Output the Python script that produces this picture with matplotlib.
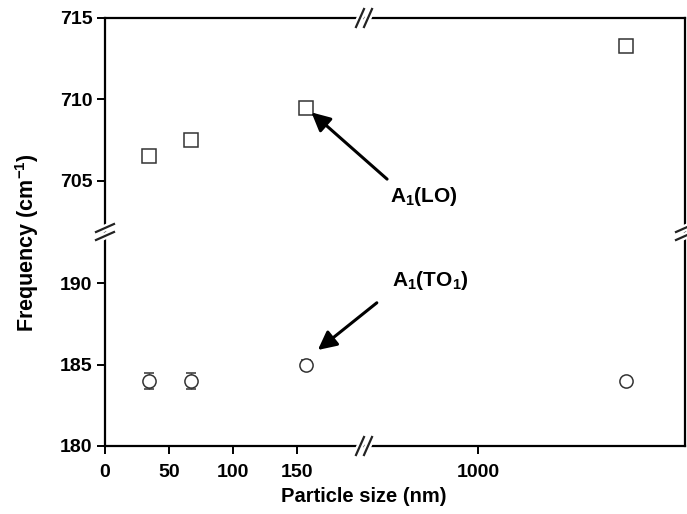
import matplotlib
matplotlib.use('Agg')
import matplotlib.pyplot as plt

plt.rcParams['font.family'] = ['Liberation Sans', 'DejaVu Sans']
plt.rcParams['font.weight'] = 'bold'
plt.rcParams['mathtext.fontset'] = 'custom'
plt.rcParams['mathtext.rm'] = 'Liberation Sans:bold'
plt.rcParams['mathtext.bf'] = 'Liberation Sans:bold'
plt.rcParams['mathtext.default'] = 'bf'

# particle sizes (nm): three small ones + one large on the broken segment
sizes_small = [34, 67, 157]
size_large = [1390]

lo_small = [706.5, 707.5, 709.5]
lo_small_err = [0.35, 0.3, 0.2]
lo_large = [713.3]

to_small = [184.0, 184.0, 185.0]
to_small_err = [0.5, 0.5, 0.3]
to_large = [184.0]

W, H = 687, 514
fig = plt.figure(figsize=(W / 100, H / 100), dpi=100)

x0, xb, x1 = 105, 364, 685
y0, yb, y1 = 18, 232, 446

def px_axes(left, right, top, bottom):
    return fig.add_axes([left / W, 1 - bottom / H, (right - left) / W, (bottom - top) / H])

ax_tl = px_axes(x0, xb, y0, yb)
ax_tr = px_axes(xb, x1, y0, yb)
ax_bl = px_axes(x0, xb, yb, y1)
ax_br = px_axes(xb, x1, yb, y1)

xl_left = (0, 202)
xl_right = (700, 1545)
yl_top = (701.85, 715)
yl_bot = (180, 193.15)

for ax in (ax_tl, ax_tr, ax_bl, ax_br):
    ax.patch.set_alpha(0)
    for s in ax.spines.values():
        s.set_linewidth(1.6)
    ax.tick_params(width=1.4, length=6, labelsize=14, direction='out', pad=3)

ax_tl.set_xlim(*xl_left); ax_bl.set_xlim(*xl_left)
ax_tr.set_xlim(*xl_right); ax_br.set_xlim(*xl_right)
ax_tl.set_ylim(*yl_top); ax_tr.set_ylim(*yl_top)
ax_bl.set_ylim(*yl_bot); ax_br.set_ylim(*yl_bot)

# spines
ax_tl.spines['bottom'].set_visible(False); ax_tl.spines['right'].set_visible(False)
ax_tr.spines['bottom'].set_visible(False); ax_tr.spines['left'].set_visible(False)
ax_bl.spines['top'].set_visible(False); ax_bl.spines['right'].set_visible(False)
ax_br.spines['top'].set_visible(False); ax_br.spines['left'].set_visible(False)

# ticks
ax_tl.set_yticks([705, 710, 715])
ax_bl.set_yticks([180, 185, 190])
ax_bl.set_xticks([0, 50, 100, 150])
ax_br.set_xticks([1000])
ax_tl.set_xticks([]); ax_tr.set_xticks([])
ax_tr.set_yticks([]); ax_br.set_yticks([])
ax_bl.tick_params(axis='x', length=6, pad=7)
ax_br.tick_params(axis='x', length=6, pad=7)

mk = dict(mfc='white', mec='#333333', mew=1.1, color='#333333', capsize=3.5,
          elinewidth=1.0, capthick=1.0, ls='none', markersize=9.5)
ax_tl.errorbar(sizes_small, lo_small, yerr=lo_small_err, marker='s', **mk)
ax_tr.errorbar(size_large, lo_large, marker='s', **mk)
ax_bl.errorbar(sizes_small, to_small, yerr=to_small_err, marker='o', **mk)
ax_br.errorbar(size_large, to_large, marker='o', **mk)

# break marks
def brk(cx, cy, horiz):
    for col, lw in (('white', 5), ('#222222', 1.6)):
        for d in (-4, 4):
            if horiz:
                xs = [cx + d - 4, cx + d + 4]; ys = [cy + 9, cy - 9]
            else:
                xs = [cx - 9, cx + 9]; ys = [cy + d + 4, cy + d - 4]
            fig.add_artist(plt.Line2D([x / W for x in xs], [1 - y / H for y in ys],
                                      color=col, lw=lw, transform=fig.transFigure))

brk(xb, y0, True)
brk(xb, y1, True)
brk(x0, yb, False)
brk(x1, yb, False)

# annotations
arrow = dict(arrowstyle='-|>', lw=2.2, color='black', mutation_scale=28, shrinkA=0, shrinkB=0)
ax_tl.annotate('', xy=(161, 709.2), xytext=(220, 705.1), arrowprops=arrow, annotation_clip=False)
ax_bl.annotate('', xy=(166, 185.9), xytext=(212, 188.8), arrowprops=arrow, annotation_clip=False)
fig.text(390 / W, 1 - 196 / H, r'A$_1$(LO)', fontsize=15, fontweight='bold', va='center')
fig.text(392 / W, 1 - 280 / H, r'A$_1$(TO$_1$)', fontsize=15, fontweight='bold', va='center')

fig.text(27 / W, 1 - 243 / H, r'Frequency (cm$^{-1}$)', rotation=90, fontsize=15.5,
         fontweight='bold', ha='center', va='center')
fig.text(364 / W, 1 - 496 / H, 'Particle size (nm)', fontsize=14.5, fontweight='bold',
         ha='center', va='center')

fig.savefig('out.png', dpi=100)
